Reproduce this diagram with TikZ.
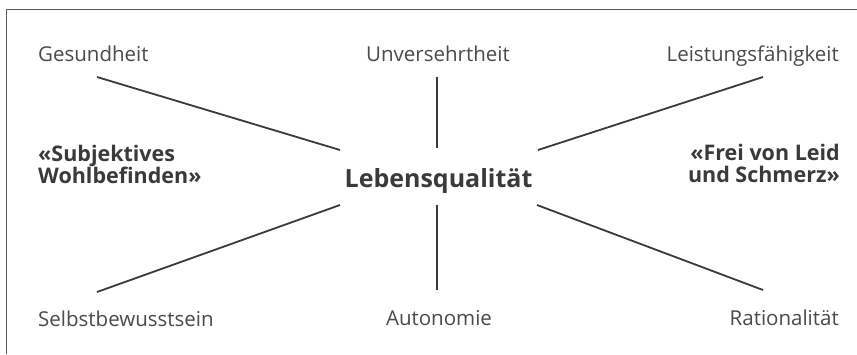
\documentclass[tikz,border=0pt]{standalone}
\usepackage{fontspec}
\setmainfont{Open Sans}
\begin{document}
\begin{tikzpicture}[x=1pt,y=-1pt,
  lbl/.style={inner sep=0pt, text=txtgray, font=\fontsize{20.5}{24}\selectfont},
  bld/.style={inner sep=0pt, text=txtdark, font=\fontsize{21.5}{22}\selectfont\bfseries, align=left},
  main/.style={inner sep=0pt, text=txtdark, font=\fontsize{25}{30}\selectfont\bfseries},
  conn/.style={draw=linegray, line width=1.8pt},
  frame/.style={draw=framegray, line width=0.9pt}]
\definecolor{txtgray}{HTML}{4A4A4A}
\definecolor{txtdark}{HTML}{3A3A3A}
\definecolor{linegray}{HTML}{3A3A3A}
\definecolor{framegray}{HTML}{5A5A5A}
\path[fill=white] (0,0) rectangle (857,354);
\useasboundingbox (0,0) rectangle (857,354);
% frame (top and left edges)
\coordinate (ftr) at (857,9);
\coordinate (ftl) at (6,9);
\coordinate (fbl) at (6,354);
\draw[frame] (ftr) -- (ftl) -- (fbl);
% labels
\node[lbl, anchor=base west] (ges) at (38,61) {Gesundheit};
\node[lbl, anchor=base] (unv) at (438,61) {Unversehrtheit};
\node[lbl, anchor=base east] (lei) at (839,61) {Leistungsfähigkeit};
\node[lbl, anchor=base west] (sel) at (38,326) {Selbstbewusstsein};
\node[lbl, anchor=base] (aut) at (439,325) {Autonomie};
\node[lbl, anchor=base east] (rat) at (839,325) {Rationalität};
\node[main, anchor=base] (leb) at (438.5,187) {Lebensqualität};
\node[bld, anchor=base west] (sub) at (38,183) {«Subjektives\\Wohlbefinden»};
\node[bld, anchor=base east, align=right] (fre) at (840,182) {«Frei von Leid\\und Schmerz»};
% connector end points
\coordinate (g1) at (97,77);   \coordinate (g2) at (340,150);
\coordinate (u1) at (437,77);  \coordinate (u2) at (437,148);
\coordinate (l1) at (763,77);  \coordinate (l2) at (538,150);
\coordinate (s1) at (97,292);  \coordinate (s2) at (340,205);
\coordinate (a1) at (437,290); \coordinate (a2) at (437,205);
\coordinate (r1) at (763,290); \coordinate (r2) at (537,205);
\draw[conn] (g1) -- (g2);
\draw[conn] (u1) -- (u2);
\draw[conn] (l1) -- (l2);
\draw[conn] (s1) -- (s2);
\draw[conn] (a1) -- (a2);
\draw[conn] (r1) -- (r2);
\end{tikzpicture}
\end{document}
